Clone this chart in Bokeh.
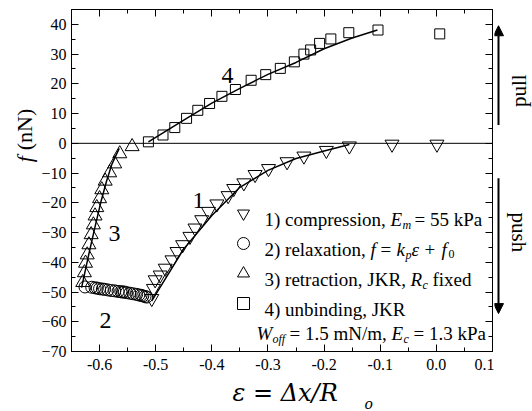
import math
from bokeh.plotting import figure
from bokeh.layouts import row, column
from bokeh.models import (Range1d, FixedTicker, LinearAxis, Span, Label, Arrow,
                          NormalHead, Legend, LegendItem)
from bokeh.embed import file_html
from bokeh.resources import INLINE

# ---------------- data ----------------
comp_x = [0.001, -0.079, -0.155, -0.196, -0.236, -0.266, -0.299, -0.323, -0.343,
          -0.361, -0.371, -0.391, -0.406, -0.418, -0.430, -0.439, -0.452, -0.462,
          -0.471, -0.483, -0.492, -0.501, -0.504, -0.507]
comp_y = [-0.3, -0.3, -0.9, -2.4, -4.3, -6.2, -8.5, -10.5, -13.3,
          -15.2, -17.6, -20.4, -22.9, -25.7, -28.5, -31.3, -34.1, -36.4,
          -39.2, -42.0, -44.3, -45.9, -48.8, -52.2]
comp_fit_x = [-0.507, -0.45, -0.40, -0.35, -0.30, -0.25, -0.20, -0.155]
comp_fit_y = [-53.0, -35.5, -24.3, -14.8, -9.1, -5.1, -2.6, -0.4]

relax_x = [-0.626, -0.614, -0.608, -0.604, -0.600, -0.595, -0.591, -0.585, -0.579,
           -0.573, -0.567, -0.562, -0.559, -0.556, -0.552, -0.546, -0.540, -0.534,
           -0.530, -0.526, -0.523, -0.519, -0.516]
relax_y = [-48.3, -48.4, -48.6, -48.7, -48.9, -49.0, -49.1, -49.3, -49.5,
           -49.6, -49.8, -49.9, -50.0, -50.0, -50.2, -50.4, -50.6, -50.8,
           -51.0, -51.1, -51.3, -51.5, -51.7]

retr_x = [-0.542, -0.564, -0.573, -0.582, -0.590, -0.596, -0.600, -0.605, -0.608,
          -0.611, -0.615, -0.619, -0.622, -0.625, -0.627, -0.630]
retr_y = [-1.1, -3.5, -6.9, -9.9, -12.7, -15.6, -18.6, -21.6, -24.4,
          -27.4, -30.7, -34.1, -37.5, -40.3, -43.5, -46.8]
retr_fit_x = [-0.632, -0.620, -0.608, -0.598, -0.588, -0.578, -0.565]
retr_fit_y = [-48.5, -38.0, -28.0, -20.0, -13.0, -7.0, -1.7]

unb_x = [-0.513, -0.487, -0.466, -0.445, -0.425, -0.404, -0.382, -0.358, -0.330,
         -0.304, -0.278, -0.253, -0.236, -0.224, -0.208, -0.188, -0.156, -0.104, 0.006]
unb_y = [0.5, 2.8, 5.3, 8.4, 11.1, 13.4, 15.8, 18.1, 21.2,
         23.1, 25.2, 27.4, 30.0, 31.4, 33.6, 35.1, 37.2, 38.1, 36.8]
unb_fit_x = [-0.513, -0.45, -0.40, -0.35, -0.30, -0.25, -0.20, -0.15, -0.105]
unb_fit_y = [0.5, 7.8, 13.5, 18.5, 23.2, 27.2, 31.8, 35.4, 38.1]

x_ticks = [-0.6, -0.5, -0.4, -0.3, -0.2, -0.1, 0.0, 0.1]
x_tick_labels = ["-0.6", "-0.5", "-0.4", "-0.3", "-0.2", "-0.1", "0.0", "0.1"]
x_minor = [-0.65, -0.55, -0.45, -0.35, -0.25, -0.15, -0.05, 0.05]
y_ticks = [-70, -60, -50, -40, -30, -20, -10, 0, 10, 20, 30, 40]
y_minor = [-65, -55, -45, -35, -25, -15, -5, 5, 15, 25, 35, 45]

FONT = "Liberation Serif"
F_AX = "DejaVu Serif"

# ---------------- layout geometry (page pixels) ----------------
LEFT_W = 38          # strip holding the y title
MAIN_W = 456         # main figure
RIGHT_W = 532 - LEFT_W - MAIN_W
TOP_H = 379          # row height
BOT_H = 411 - TOP_H  # strip holding the x title
FL, FB = 70, 351     # main frame left / bottom in page pixels


def strip(w, h, x0, y0):
    """A bare figure whose data coordinates are page pixels (y grows downwards)."""
    f = figure(width=w, height=h, x_range=Range1d(x0, x0 + w), y_range=Range1d(y0 + h, y0),
               output_backend="svg", toolbar_location=None,
               x_axis_location=None, y_axis_location=None, min_border=0)
    f.grid.visible = False
    f.outline_line_color = None
    f.background_fill_color = "white"
    f.border_fill_color = "white"
    return f


# ---------------- main figure ----------------
p = figure(width=MAIN_W, height=TOP_H, x_range=Range1d(-0.65, 0.1), y_range=Range1d(-70, 45),
           output_backend="svg", toolbar_location=None,
           min_border_left=32, min_border_right=2, min_border_top=9, min_border_bottom=28)
p.grid.visible = False
p.outline_line_color = "black"
p.outline_line_width = 1
p.background_fill_color = "white"
p.border_fill_color = "white"


def style_axis(ax, labels=True):
    ax.axis_line_color = "black"
    ax.major_tick_line_color = "black"
    ax.minor_tick_line_color = "black"
    ax.major_tick_in = 7
    ax.major_tick_out = 0
    ax.minor_tick_in = 4
    ax.minor_tick_out = 0
    if labels:
        ax.major_label_text_font = FONT
        ax.major_label_text_color = "black"
        ax.major_label_text_font_size = "16px"
    else:
        ax.major_label_text_font_size = "1px"
        ax.major_label_text_color = None
        ax.major_label_standoff = 0


p.xaxis.ticker = FixedTicker(ticks=x_ticks, minor_ticks=x_minor)
p.yaxis.ticker = FixedTicker(ticks=y_ticks, minor_ticks=y_minor)
p.xaxis.major_label_overrides = {t: s for t, s in zip(x_ticks, x_tick_labels)}
style_axis(p.xaxis[0])
style_axis(p.yaxis[0])
p.xaxis.major_label_standoff = 7
p.yaxis.major_label_standoff = 5

top = LinearAxis(ticker=FixedTicker(ticks=x_ticks, minor_ticks=x_minor))
style_axis(top, labels=False)
p.add_layout(top, "above")
right = LinearAxis(ticker=FixedTicker(ticks=y_ticks, minor_ticks=y_minor))
style_axis(right, labels=False)
p.add_layout(right, "right")

p.add_layout(Span(location=0, dimension="width", line_color="black", line_width=1))

r1 = p.scatter(comp_x, comp_y, marker="inverted_triangle", size=14,
               line_color="black", fill_color=None, line_width=1)
r2 = p.scatter(relax_x, relax_y, marker="circle", size=12,
               line_color="black", fill_color=None, line_width=1)
r3 = p.scatter(retr_x, retr_y, marker="triangle", size=14,
               line_color="black", fill_color=None, line_width=1)
r4 = p.scatter(unb_x, unb_y, marker="square", size=10,
               line_color="black", fill_color=None, line_width=1)
p.line(comp_fit_x, comp_fit_y, line_color="black", line_width=1.5)
p.line(retr_fit_x, retr_fit_y, line_color="black", line_width=1.5)
p.line(unb_fit_x, unb_fit_y, line_color="black", line_width=1.5)

legend = Legend(items=[LegendItem(label=" ", renderers=[r]) for r in (r1, r2, r3, r4)],
                location=(225 - FL, FB - 318), glyph_width=34, glyph_height=30,
                spacing=0, padding=0, margin=0, label_standoff=0, label_width=0,
                label_height=0, label_text_font_size="1px",
                border_line_color=None, background_fill_alpha=0)
p.add_layout(legend)


def lab(fig, ox, oy, text, ix, iy, size=19, italic=False, angle=0.0,
        align="left", baseline="alphabetic", font=FONT):
    """Screen-unit label; ox/oy: page x of the frame's left edge and page y of its bottom."""
    fig.add_layout(Label(x=ix - ox, y=oy - iy, x_units="screen", y_units="screen",
                         text=text, text_font=font, text_font_size=f"{size}px",
                         text_font_style="italic" if italic else "normal",
                         text_color="black", text_align=align,
                         text_baseline=baseline, angle=angle))


def dlab(fig, text, ix, iy, size=19, italic=False, angle=0.0,
         align="left", baseline="alphabetic", font=FONT):
    """Label placed in a strip whose data coordinates are page pixels."""
    fig.add_layout(Label(x=ix, y=iy, text=text, text_font=font, text_font_size=f"{size}px",
                         text_font_style="italic" if italic else "normal",
                         text_color="black", text_align=align,
                         text_baseline=baseline, angle=angle))


def m(text, ix, iy, size=19, italic=False, align="left"):
    lab(p, FL, FB, text, ix, iy, size, italic, 0.0, align)


SUB = 12
m("1) compression,", 263, 219)
m("E", 389, 219, italic=True)
m("m", 401, 224, SUB, italic=True)
m("= 55 kPa", 413, 219)

m("2) relaxation,", 263, 249)
m("f", 369, 249, italic=True)
m("=", 379, 249)
m("k", 395, 249, italic=True)
m("p", 404, 254, SUB, italic=True)
m("\u03b5", 410, 249, italic=True)
m("+", 423, 249)
m("f", 440, 249, italic=True)
m("0", 447, 253, SUB)

m("3) retraction, JKR,", 263, 279)
m("R", 409, 279, italic=True)
m("c", 421, 284, SUB, italic=True)
m("fixed", 431, 279)

m("4) unbinding, JKR", 263, 309)

m("W", 255, 333, italic=True)
m("off", 271, 338, SUB, italic=True)
m("= 1.5 mN/m,", 288, 333)
m("E", 390, 333, italic=True)
m("c", 402, 338, SUB, italic=True)
m("= 1.3 kPa", 412, 333)

m("4", 226, 75, 24, align="center")
m("1", 197, 200, 24, align="center")
m("3", 113, 233, 24, align="center")
m("2", 104, 320, 24, align="center")

# ---------------- left strip: y title ----------------
pl = strip(LEFT_W, TOP_H, 0, 0)
dlab(pl, "f", 24, 166, 22, italic=True, angle=math.pi / 2,
     align="center", baseline="middle")
dlab(pl, "(nN)", 24, 133, 22, angle=math.pi / 2,
     align="center", baseline="middle")

# ---------------- right strip: pull / push ----------------
RX = LEFT_W + MAIN_W
pr = strip(RIGHT_W, TOP_H, RX, 0)
dlab(pr, "pull", 518, 90, 21, angle=math.pi / 2, align="center", baseline="middle")
dlab(pr, "push", 518, 247, 21, angle=-math.pi / 2, align="center", baseline="middle")
for y0, y1 in ((128, 18), (187, 337)):
    pr.add_layout(Arrow(end=NormalHead(size=10, fill_color="black", line_color="black"),
                        x_start=498, y_start=y0, x_end=498, y_end=y1,
                        line_color="black", line_width=2))

# ---------------- bottom strip: x title ----------------
pb = strip(532, BOT_H, 0, TOP_H)
dlab(pb, "\u03b5 = \u0394x/R", 232, 392, 24, italic=True, font=F_AX)
dlab(pb, "o", 364, 403, 14, italic=True, font=F_AX)

layout = column(row(pl, p, pr, spacing=0), pb, spacing=0)
open("out.html", "w").write(file_html(layout, INLINE))
